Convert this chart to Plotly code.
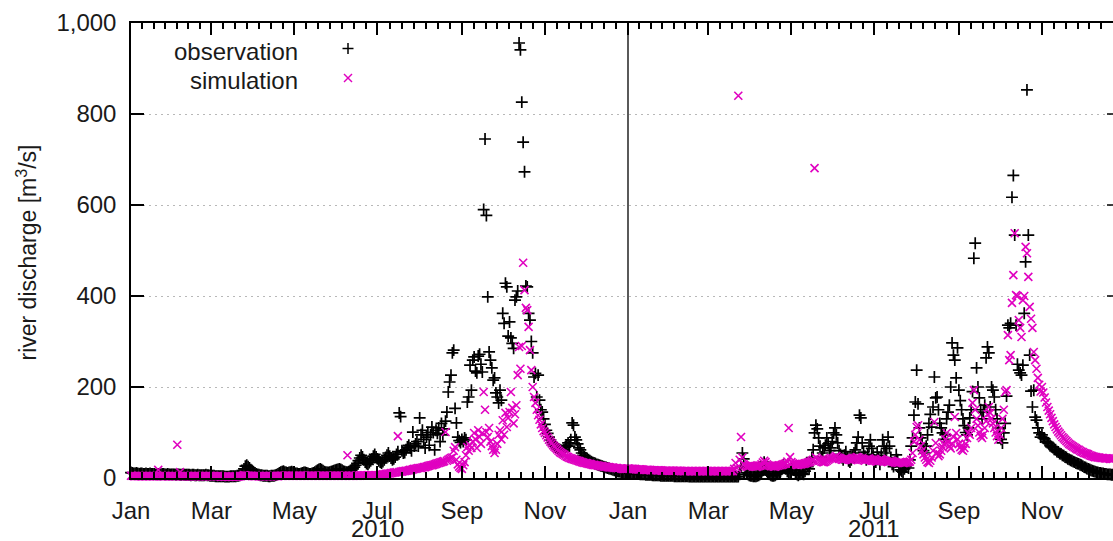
import pandas as pd
import plotly.graph_objects as go

# ---- daily river discharge [m3/s], one list per month ----
# observation 2010
obs_2010_jan = [12,11,10,10,11,10,9,10,10,9,9,10,9,9,10,9,9,9,8,9,9,8,8,9,9,8,8,9,8,8,8]
obs_2010_feb = [8,8,7,8,8,7,7,8,7,7,7,7,7,6,7,7,6,6,7,6,6,6,6,6,7,6,6,5]
obs_2010_mar = [5,5,5,4,4,4,4,4,4,4,3,3,3,3,4,4,4,4,4,5,5,6,8,12,20,26,28,25,22,18,15]
obs_2010_apr = [13,11,9,8,7,6,6,5,5,5,5,4,4,5,5,5,6,7,9,11,13,14,15,13,12,11,12,13,14,12]
obs_2010_may = [11,10,10,9,9,10,11,12,12,11,10,9,9,10,11,13,15,17,19,20,18,16,14,13,12,12,13,14,15,16,17]
obs_2010_jun = [18,19,20,19,17,15,14,13,13,14,15,17,20,24,28,32,38,44,50,46,40,35,32,30,34,38,42,48,52,46]
obs_2010_jul = [42,38,35,33,36,40,45,50,55,48,44,40,42,46,52,58,143,135,60,55,56,62,68,72,66,60,101,70,75,80,70]
obs_2010_aug = [132,95,105,85,66,90,100,72,95,112,100,62,105,98,110,80,120,95,108,125,145,189,211,226,275,281,153,121,90,82,78]
obs_2010_sep = [85,80,88,84,167,178,248,193,259,266,235,231,268,272,250,233,590,745,577,398,277,259,242,215,220,187,178,165,193,171]
obs_2010_oct = [362,340,428,420,312,343,308,296,285,391,398,411,956,941,826,738,673,422,420,362,347,300,275,222,230,178,226,171,150,145,130]
obs_2010_nov = [118,105,98,90,84,78,74,70,68,66,64,62,60,58,62,68,72,77,70,84,121,116,90,84,75,66,62,55,50,46]
obs_2010_dec = [44,42,40,38,36,34,33,32,30,29,28,27,26,25,24,23,22,21,20,19,18,17,16,15,14,14,13,12,12,11,11]

# observation 2011
obs_2011_jan = [11,11,10,10,10,9,9,9,9,8,8,8,8,7,7,7,7,7,6,6,6,6,6,6,5,5,5,5,5,5,5]
obs_2011_feb = [5,5,5,4,4,4,4,4,4,4,4,4,4,4,3,3,3,3,3,3,3,3,3,3,3,3,3,3]
obs_2011_mar = [3,3,3,3,3,3,3,3,3,3,3,3,3,3,3,3,3,3,3,3,3,3,3,8,25,55,42,22,12,8,6]
obs_2011_apr = [5,5,4,4,4,5,6,8,12,18,35,20,15,10,8,6,5,5,6,8,10,12,15,20,28,25,20,15,12,10]
obs_2011_may = [20,25,18,12,8,6,8,12,10,8,15,30,25,20,35,45,62,99,116,108,88,70,46,55,66,72,88,75,60,66,80]
obs_2011_jun = [99,110,95,77,60,52,45,40,50,58,45,38,35,40,48,55,62,77,90,138,132,77,57,48,40,52,70,84,65,50]
obs_2011_jul = [40,35,57,45,30,50,84,70,55,65,90,70,45,30,25,35,51,40,25,18,15,13,20,25,30,22,40,70,88,138,167]
obs_2011_aug = [237,163,110,88,75,60,55,70,95,120,140,112,156,222,176,178,150,120,110,99,85,95,130,145,160,200,297,270,259,220,286]
obs_2011_sep = [193,170,150,130,115,100,95,110,132,150,190,483,516,242,200,176,150,130,145,160,264,288,275,156,200,193,178,150,130,110]
obs_2011_oct = [100,85,77,99,120,180,336,330,340,617,665,534,336,250,237,231,226,248,362,475,853,534,270,191,156,193,134,127,110,99,90]
obs_2011_nov = [95,88,86,80,78,76,71,69,67,63,62,58,57,54,53,50,49,46,45,42,41,39,38,36,35,33,32,31,29,28]
obs_2011_dec = [26,24,23,21,20,19,17,16,15,14,13,12,11,11,10,10,9,9,8,8,8,7,7]

# simulation 2010
sim_2010_jan = [5,5,4,4,4,4,4,4,4,4,4,4,4,4,4,4,4,4,4,4,18,4,4,4,4,4,4,4,4,4,4]
sim_2010_feb = [4,4,4,73,4,13,4,4,4,4,4,4,4,4,4,4,4,4,4,4,4,4,4,4,4,4,4,4]
sim_2010_mar = [4,4,4,4,4,4,4,3,3,3,3,3,3,3,3,3,3,3,3,3,3,4,4,5,6,6,5,5,5,5,4]
sim_2010_apr = [4,4,4,4,4,4,4,4,4,4,4,4,4,4,4,4,4,4,4,5,5,5,5,5,5,5,5,5,5,5]
sim_2010_may = [5,5,5,5,5,5,5,5,5,5,5,5,5,5,5,5,5,5,5,5,5,5,5,5,5,5,5,5,5,5,5]
sim_2010_jun = [5,5,5,5,5,5,5,5,50,5,5,5,5,5,5,5,5,5,6,6,6,6,6,6,6,6,6,6,6,6]
sim_2010_jul = [6,6,7,7,8,8,9,9,10,10,11,11,12,12,13,92,13,14,14,15,15,16,16,17,18,18,19,20,20,21,22]
sim_2010_aug = [22,22,23,24,24,25,26,27,28,28,29,30,31,32,33,34,35,36,37,101,38,40,42,44,45,60,68,40,30,25,22]
sim_2010_sep = [20,28,35,50,68,60,72,66,80,99,85,66,105,90,75,99,189,150,101,90,110,80,70,62,55,62,75,95,105,85]
sim_2010_oct = [127,95,143,112,132,145,189,154,120,140,160,226,288,240,290,473,413,374,369,332,281,237,200,178,165,150,138,128,118,110,103]
sim_2010_nov = [99,94,89,84,80,76,72,69,66,63,60,57,55,53,51,49,47,46,44,43,42,41,40,39,38,37,36,35,34,33]
sim_2010_dec = [33,32,31,31,30,29,29,28,28,27,27,26,26,25,25,25,24,24,23,23,23,22,22,22,21,21,21,20,20,20,20]

# simulation 2011
sim_2011_jan = [21,21,20,20,20,20,19,19,19,19,19,18,18,18,18,18,18,17,17,17,17,17,17,17,17,16,16,16,16,16,16]
sim_2011_feb = [16,16,16,16,16,16,16,16,15,15,15,15,15,15,15,15,15,15,15,15,15,15,15,15,15,15,15,15]
sim_2011_mar = [15,15,15,15,15,15,15,15,15,15,15,15,15,15,15,15,15,15,15,20,33,22,840,40,90,45,30,27,25,25,26]
sim_2011_apr = [28,27,26,26,25,25,26,27,30,34,38,35,30,28,27,26,26,25,25,26,27,28,28,29,30,31,32,36,110,46]
sim_2011_may = [35,32,30,30,29,29,30,30,31,31,32,33,34,35,36,38,40,681,45,42,40,38,36,35,35,36,38,40,42,44,42]
sim_2011_jun = [44,46,48,45,43,42,40,40,42,44,43,41,40,39,40,42,44,46,45,43,41,40,39,38,40,42,43,41,40,38]
sim_2011_jul = [38,37,36,38,40,42,40,38,37,36,35,36,38,37,36,35,34,33,34,35,34,33,33,34,35,35,36,40,55,80,95]
sim_2011_aug = [112,116,84,70,60,52,45,40,35,33,38,45,60,123,77,55,48,52,60,68,75,85,99,80,70,65,75,90,134,99,85]
sim_2011_sep = [75,68,62,60,66,75,88,99,95,110,165,193,150,130,115,100,92,88,95,110,125,140,156,143,130,120,110,100,92,84]
sim_2011_oct = [95,110,130,150,189,193,314,259,270,385,446,538,402,400,347,330,310,391,400,508,494,442,376,350,330,277,259,240,220,205,190]
sim_2011_nov = [200,188,177,166,156,148,140,132,125,118,112,107,102,98,94,90,87,84,81,78,75,73,71,69,67,65,63,62,60,58]
sim_2011_dec = [57,55,54,53,52,50,49,48,47,46,46,45,45,44,44,44,43,43,43,43,42,42,42]

month_starts = [f"{y}-{m:02d}-01" for y in (2010, 2011) for m in range(1, 13)]
obs_months = [obs_2010_jan, obs_2010_feb, obs_2010_mar, obs_2010_apr, obs_2010_may, obs_2010_jun,
              obs_2010_jul, obs_2010_aug, obs_2010_sep, obs_2010_oct, obs_2010_nov, obs_2010_dec,
              obs_2011_jan, obs_2011_feb, obs_2011_mar, obs_2011_apr, obs_2011_may, obs_2011_jun,
              obs_2011_jul, obs_2011_aug, obs_2011_sep, obs_2011_oct, obs_2011_nov, obs_2011_dec]
sim_months = [sim_2010_jan, sim_2010_feb, sim_2010_mar, sim_2010_apr, sim_2010_may, sim_2010_jun,
              sim_2010_jul, sim_2010_aug, sim_2010_sep, sim_2010_oct, sim_2010_nov, sim_2010_dec,
              sim_2011_jan, sim_2011_feb, sim_2011_mar, sim_2011_apr, sim_2011_may, sim_2011_jun,
              sim_2011_jul, sim_2011_aug, sim_2011_sep, sim_2011_oct, sim_2011_nov, sim_2011_dec]

month_labels = ["Jan", "Mar", "May", "Jul", "Sep", "Nov"]
year_labels = ["2010", "2011"]
y_ticks = [0, 200, 400, 600, 800, 1000]


def daily_series(months):
    dates, values = [], []
    for start, vals in zip(month_starts, months):
        dates.extend(pd.date_range(start, periods=len(vals), freq="D"))
        values.extend(vals)
    return dates, values


obs_x, obs_y = daily_series(obs_months)
sim_x, sim_y = daily_series(sim_months)

FONT = "Liberation Sans, Arial, sans-serif"
TEXT = "#1a1a1a"
MAGENTA = "#e000c0"

# plot frame in pixels
W, H = 1113, 541
L, T, B = 131, 23, 63
PW, PH = W - L, H - T - B

fig = go.Figure()
fig.add_trace(go.Scatter(
    x=obs_x, y=obs_y, mode="markers", name="observation", cliponaxis=False,
    marker=dict(symbol="cross-thin", size=8.5, color="black",
                line=dict(color="black", width=1.7)),
))
fig.add_trace(go.Scatter(
    x=sim_x, y=sim_y, mode="markers", name="simulation", cliponaxis=False,
    marker=dict(symbol="x-thin", size=8, color=MAGENTA,
                line=dict(color=MAGENTA, width=1.6)),
))

# major ticks every two months, six minor ticks in between
major = [pd.Timestamp(f"{y}-{m:02d}-01") for y in (2010, 2011) for m in (1, 3, 5, 7, 9, 11)]
edges = major + [pd.Timestamp("2012-01-01")]
minor = []
for a, b in zip(edges[:-1], edges[1:]):
    minor += [a + (b - a) * k / 7 for k in range(1, 7)]

x_end = pd.Timestamp("2010-01-01") + pd.Timedelta(days=(W - L) / (497 / 365))

fig.update_layout(
    width=W, height=H,
    margin=dict(l=L, r=0, t=T, b=B, pad=0),
    paper_bgcolor="white", plot_bgcolor="white",
    showlegend=False,
    font=dict(family=FONT, size=24, color=TEXT),
    xaxis=dict(
        range=[pd.Timestamp("2010-01-01"), x_end],
        tickmode="array", tickvals=major, ticktext=month_labels * 2,
        ticks="inside", ticklen=12, tickwidth=1.5, tickcolor="black",
        minor=dict(tickmode="array", tickvals=minor, ticks="inside",
                   ticklen=6, tickwidth=1.5, tickcolor="black", showgrid=False),
        showline=True, linecolor="black", linewidth=1.5, mirror="ticks",
        showgrid=False, zeroline=False, ticklabelstandoff=10,
        tickfont=dict(size=24),
    ),
    yaxis=dict(
        range=[0, 1000], tickmode="array", tickvals=y_ticks, tickformat=",",
        ticks="inside", ticklen=13, tickwidth=1.5, tickcolor="black",
        showline=True, linecolor="black", linewidth=1.5,
        showgrid=True, gridcolor="#b8b8b8", gridwidth=1, griddash="2px,4px",
        zeroline=False, ticklabelstandoff=8, tickfont=dict(size=24),
    ),
)

# boundary between the two hydrological years
fig.add_shape(type="line", xref="x", yref="paper",
              x0=pd.Timestamp("2011-01-01"), x1=pd.Timestamp("2011-01-01"), y0=0, y1=1,
              line=dict(color="black", width=1.3))

# short mirrored y ticks at the right edge
for v in y_ticks[1:-1]:
    fig.add_shape(type="line", xref="paper", yref="y", x0=1 - 6 / PW, x1=1, y0=v, y1=v,
                  line=dict(color="black", width=1.5))

# year labels under the July ticks
for yr in year_labels:
    fig.add_annotation(x=pd.Timestamp(f"{yr}-07-01"), y=0, xref="x", yref="paper",
                       text=yr, showarrow=False, yanchor="middle", yshift=-50,
                       font=dict(size=24, family=FONT, color=TEXT))

# y axis title
fig.add_annotation(x=(26 - L) / PW, y=0.5 - 2 / PH, xref="paper", yref="paper",
                   text="river discharge [m<sup>3</sup>/s]", textangle=-90,
                   showarrow=False, xanchor="center", yanchor="middle",
                   font=dict(size=23, family=FONT, color=TEXT))


def px(xp, yp):
    return (xp - L) / PW, (H - B - yp) / PH


# key: text on the left, sample symbol on the right
for label, ypix in (("observation", 51), ("simulation", 80)):
    ax, ay = px(300, ypix)
    fig.add_annotation(x=ax, y=ay, xref="paper", yref="paper", text=label,
                       showarrow=False, xanchor="right", yanchor="middle",
                       font=dict(size=24, family=FONT, color=TEXT))

kx, ky = px(348, 48.5)
for dx0, dy0, dx1, dy1 in ((-5.5, 0, 5.5, 0), (0, -5.5, 0, 5.5)):
    fig.add_shape(type="line", xref="paper", yref="paper", xsizemode="pixel", ysizemode="pixel",
                  xanchor=kx, yanchor=ky, x0=dx0, x1=dx1, y0=dy0, y1=dy1,
                  line=dict(color="black", width=1.5))
kx, ky = px(348, 78)
for dx0, dy0, dx1, dy1 in ((-4, -4, 4, 4), (-4, 4, 4, -4)):
    fig.add_shape(type="line", xref="paper", yref="paper", xsizemode="pixel", ysizemode="pixel",
                  xanchor=kx, yanchor=ky, x0=dx0, x1=dx1, y0=dy0, y1=dy1,
                  line=dict(color=MAGENTA, width=1.5))

fig.write_html("out.html")
